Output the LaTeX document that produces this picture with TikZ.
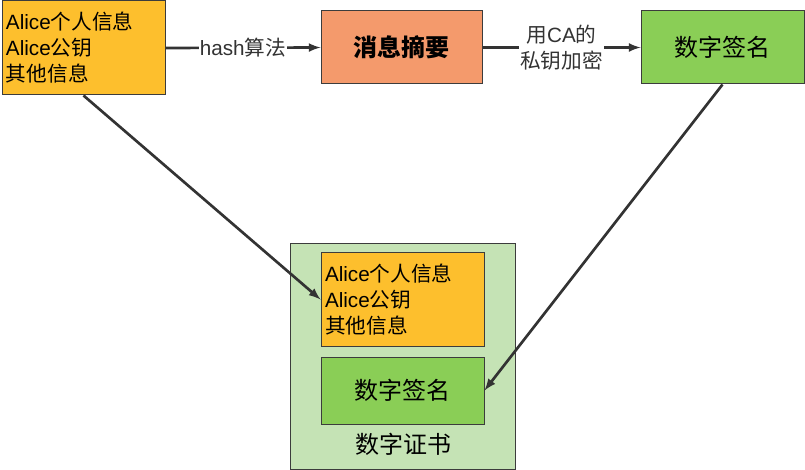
\documentclass[tikz,border=0pt]{standalone}
\usepackage{fontspec}
\setmainfont{Liberation Sans}
\newfontfamily\cjk{Noto Sans CJK SC}
\usetikzlibrary{arrows,positioning}
\definecolor{cInfo}{RGB}{253,191,45}
\definecolor{cHash}{RGB}{244,154,108}
\definecolor{cSign}{RGB}{138,206,86}
\definecolor{cCert}{RGB}{197,227,181}
\definecolor{cEdge}{RGB}{60,60,60}
\definecolor{cArrow}{RGB}{51,51,51}
\newcommand{\zh}[1]{{\cjk #1}}

\begin{document}
\begin{tikzpicture}[x=0.75pt,y=-0.75pt,font=\fontsize{15.5}{19.5}\selectfont,
  box/.style={draw=cEdge,line width=0.75pt,inner sep=3pt},
  infobox/.style={box,fill=cInfo,minimum width=122.25pt,minimum height=70.5pt,
    text width=116.25pt,align=left},
  flow/.style={-latex,cArrow,line width=2pt},
  lbl/.style={fill=white,inner sep=1pt,align=center}]
  \useasboundingbox (0,0) rectangle (805,470);
  % certificate frame first, so the inner boxes sit on top
  \node[box,fill=cCert,minimum width=168.75pt,minimum height=169.5pt] (cert) at (402.5,356) {};
  \node[font=\fontsize{18}{20}\selectfont] (certlbl) at (403,444) {\zh{数字证书}};
  \node[infobox] (info) at (83.5,48)
    {Alice\zh{个人信息}\\Alice\zh{公钥}\\\zh{其他信息}};
  \node[box,fill=cHash,minimum width=120.75pt,minimum height=54.75pt,
    font=\fontsize{18}{20}\selectfont\bfseries] (digest) at (401.5,47.5) {\zh{消息摘要}};
  \node[box,fill=cSign,minimum width=122.25pt,minimum height=54.75pt,
    font=\fontsize{18}{20}\selectfont] (sign) at (722.5,47.5) {\zh{数字签名}};
  \node[infobox] (cinfo) at (402.5,299.5)
    {Alice\zh{个人信息}\\Alice\zh{公钥}\\\zh{其他信息}};
  \node[box,fill=cSign,minimum width=122.25pt,minimum height=50.25pt,
    font=\fontsize{18}{20}\selectfont] (csign) at (402.5,390.5) {\zh{数字签名}};
  \draw[flow] (info.east) -- node[lbl] (hashlbl) {hash\zh{算法}} (digest.west);
  \draw[flow] (digest.east) -- node[lbl] (enclbl) {\zh{用}CA\zh{的}\\\zh{私钥加密}} (sign.west);
  \draw[flow] (info.south) -- (cinfo.west);
  \draw[flow] (sign.south) -- (csign.east);
\end{tikzpicture}
\end{document}
